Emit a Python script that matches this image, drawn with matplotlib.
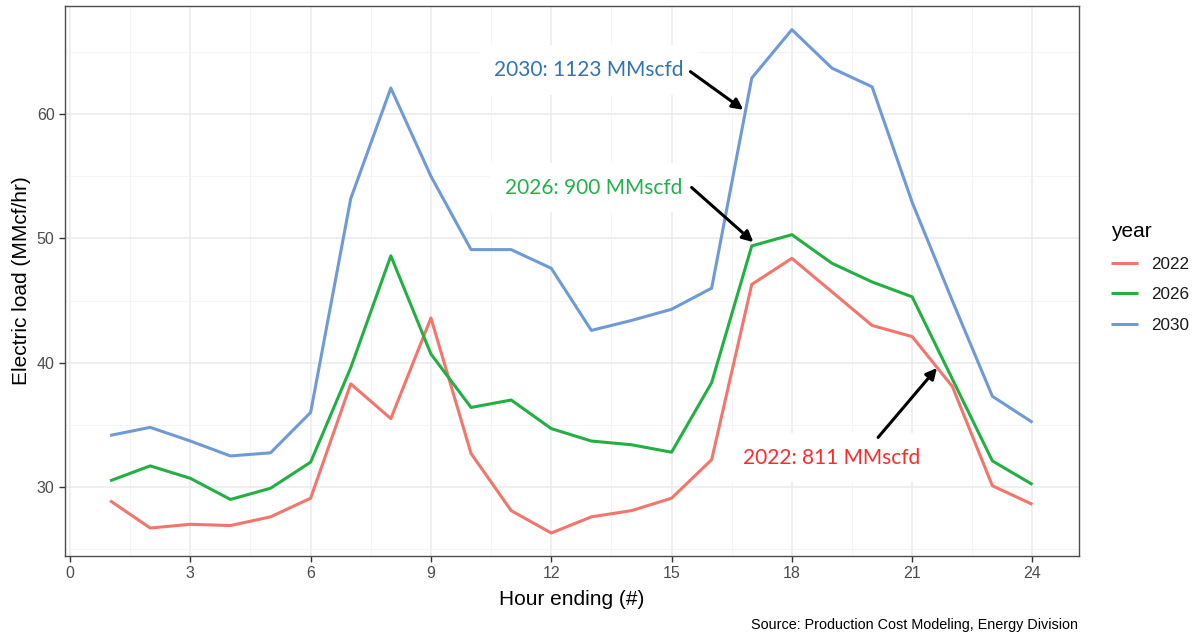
import matplotlib.pyplot as plt
from matplotlib.ticker import MultipleLocator

hours = list(range(1, 25))
load_2022 = [28.9, 26.7, 27.0, 26.9, 27.6, 29.1, 38.3, 35.5, 43.6, 32.7, 28.1, 26.3,
             27.6, 28.1, 29.1, 32.2, 46.3, 48.4, 45.7, 43.0, 42.1, 38.1, 30.1, 28.6]
load_2026 = [30.5, 31.7, 30.7, 29.0, 29.9, 32.0, 39.6, 48.6, 40.7, 36.4, 37.0, 34.7,
             33.7, 33.4, 32.8, 38.4, 49.4, 50.3, 48.0, 46.5, 45.3, 38.7, 32.1, 30.2]
load_2030 = [34.15, 34.8, 33.7, 32.5, 32.75, 36.0, 53.2, 62.1, 55.0, 49.1, 49.1, 47.6,
             42.6, 43.4, 44.3, 46.0, 62.9, 66.8, 63.7, 62.2, 52.9, 45.0, 37.3, 35.2]

years = ['2022', '2026', '2030']
line_colors = ['#F4756C', '#22B043', '#6E9AD8']
label_colors = ['#FF2B2B', '#22B14C', '#2E75B6']
labels = ['2022: 811 MMscfd', '2026: 900 MMscfd', '2030: 1123 MMscfd']

plt.rcParams['font.family'] = ['Liberation Sans', 'DejaVu Sans']

fig = plt.figure(figsize=(11.95, 6.36), dpi=100)
ax = fig.add_axes([65 / 1195, 1 - 556 / 636, (1079 - 65) / 1195, (556 - 6) / 636])

for vals, yr, c in zip([load_2022, load_2026, load_2030], years, line_colors):
    ax.plot(hours, vals, color=c, lw=2.2, label=yr, solid_capstyle='butt')

ax.set_xlim(-0.125, 25.16)
ax.set_ylim(24.45, 68.7)
ax.xaxis.set_major_locator(MultipleLocator(3))
ax.xaxis.set_minor_locator(MultipleLocator(1.5))
ax.yaxis.set_major_locator(MultipleLocator(10))
ax.yaxis.set_minor_locator(MultipleLocator(5))
ax.set_yticks([30, 40, 50, 60])
ax.grid(which='major', color='#EBEBEB', lw=1.1)
ax.grid(which='minor', color='#F4F4F4', lw=0.6)
ax.set_axisbelow(True)
ax.tick_params(which='major', length=4, width=1, color='#333333', labelsize=11.5,
               labelcolor='#4D4D4D')
ax.tick_params(which='minor', length=0)
for s in ax.spines.values():
    s.set_color('#4D4D4D')
    s.set_linewidth(1)

ax.set_xlabel('Hour ending (#)', fontsize=15, labelpad=6)
ax.set_ylabel('Electric load (MMcf/hr)', fontsize=15, labelpad=4)

# annotations with white boxes and black arrows
text_pos = [(18.99, 32.37), (13.06, 54.08), (12.94, 63.55)]
arrow_tail = [(20.15, 33.99), (15.50, 54.10), (15.47, 63.42)]
arrow_tip = [(21.62, 39.58), (17.04, 49.70), (16.79, 60.35)]
for lab, col, tp, tail, tip in zip(labels, label_colors, text_pos, arrow_tail, arrow_tip):
    ax.text(tp[0], tp[1], lab, color=col, fontsize=15, family=['Lato', 'DejaVu Sans'],
            ha='center', va='center', zorder=4,
            bbox=dict(boxstyle='square,pad=0.7', fc='white', ec='none'))
    ax.annotate('', xy=tip, xytext=tail, zorder=5,
                arrowprops=dict(arrowstyle='-|>', color='black', lw=2.2,
                                mutation_scale=16, shrinkA=0, shrinkB=0))

leg = ax.legend(title='year', loc='upper left', bbox_to_anchor=(1.025, 0.62),
                frameon=False, fontsize=12.3, title_fontsize=15, handlelength=1.55,
                labelspacing=0.92, handletextpad=0.8, borderaxespad=0)
leg._legend_box.align = 'left'
for t in leg.get_texts():
    t.set_color('#1A1A1A')

fig.text(1078 / 1195, 1 - 625 / 636, 'Source: Production Cost Modeling, Energy Division',
         ha='right', va='center', fontsize=10.4)

fig.savefig('out.png', dpi=100)
